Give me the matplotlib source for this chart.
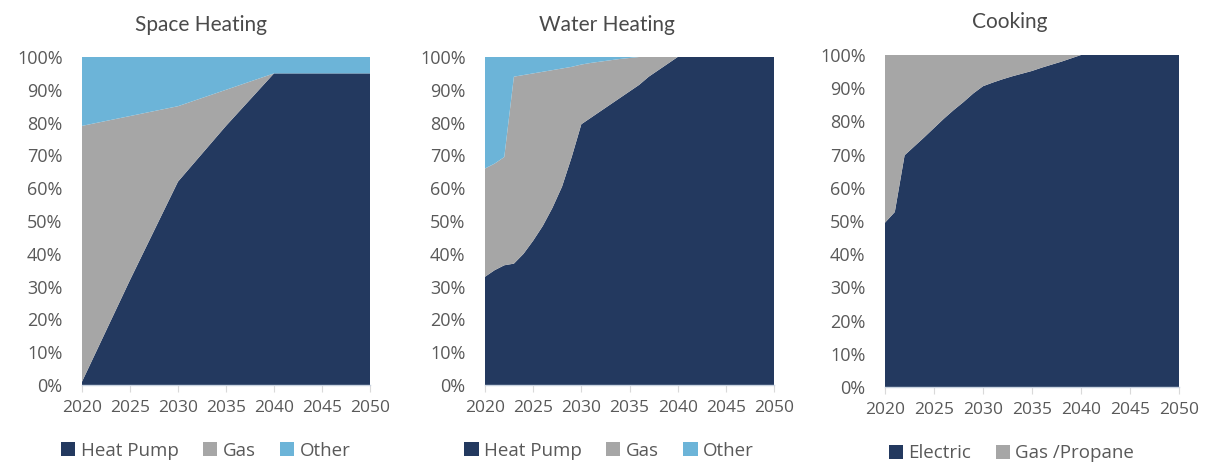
import matplotlib
matplotlib.use("Agg")
import matplotlib.pyplot as plt
from matplotlib.patches import Patch
from matplotlib.ticker import PercentFormatter

# ---------------- data ----------------
space_years = [2020, 2025, 2030, 2035, 2040, 2045, 2050]
space_heat_pump = [1, 32, 62, 79, 95, 95, 95]
space_gas = [78, 50, 23, 11, 0, 0, 0]
space_other = [21, 18, 15, 10, 5, 5, 5]

water_years = list(range(2020, 2051))
water_heat_pump = [33, 35, 36.5, 37, 40, 44, 48.5, 54, 60.5, 69.5, 79.5,
                   81.5, 83.5, 85.5, 87.5, 89.5, 91.5, 94, 96, 98, 100,
                   100, 100, 100, 100, 100, 100, 100, 100, 100, 100]
water_gas = [33, 32.5, 33, 57, 54.5, 51, 47, 42, 36, 27.5, 18.2,
             16.7, 15.1, 13.5, 11.9, 10.2, 8.5, 6, 4, 2, 0,
             0, 0, 0, 0, 0, 0, 0, 0, 0, 0]
water_other = [34, 32.5, 30.5, 6, 5.5, 5, 4.5, 4, 3.5, 3, 2.3,
               1.8, 1.4, 1.0, 0.6, 0.3, 0, 0, 0, 0, 0,
               0, 0, 0, 0, 0, 0, 0, 0, 0, 0]

cook_years = list(range(2020, 2051))
cook_electric = [49.5, 52.7, 69.8, 72.5, 75.2, 78, 80.8, 83.4, 85.8, 88.4, 90.6,
                 91.7, 92.7, 93.6, 94.4, 95.2, 96.2, 97.1, 98, 99, 100,
                 100, 100, 100, 100, 100, 100, 100, 100, 100, 100]
cook_gas = [100 - v for v in cook_electric]

titles = ["Space Heating", "Water Heating", "Cooking"]
xticks = [2020, 2025, 2030, 2035, 2040, 2045, 2050]
yticks = list(range(0, 101, 10))

# ---------------- style ----------------
NAVY = "#23395f"
GRAY = "#a6a6a6"
LBLUE = "#6cb4d8"
TXT = "#595959"
TITLE_C = "#4a4a4a"
FONT = "Open Sans"

fig = plt.figure(figsize=(12.05, 4.62), dpi=100)
W, H = 1205, 462

def add_ax(l, r, t, b):
    return fig.add_axes([l / W, (H - b) / H, (r - l) / W, (b - t) / H])

ax1 = add_ax(82, 370, 57, 385)
ax2 = add_ax(485, 774, 57, 385)
ax3 = add_ax(885, 1179, 55, 387)

ax1.stackplot(space_years, space_heat_pump, space_gas, space_other,
              colors=[NAVY, GRAY, LBLUE], linewidth=0)
ax2.stackplot(water_years, water_heat_pump, water_gas, water_other,
              colors=[NAVY, GRAY, LBLUE], linewidth=0)
ax3.stackplot(cook_years, cook_electric, cook_gas,
              colors=[NAVY, GRAY], linewidth=0)

legends = [
    [("Heat Pump", NAVY), ("Gas", GRAY), ("Other", LBLUE)],
    [("Heat Pump", NAVY), ("Gas", GRAY), ("Other", LBLUE)],
    [("Electric", NAVY), ("Gas /Propane", GRAY)],
]
title_pos = [(201, 31), (607, 31), (1010, 28)]

for ax, title, leg, (tx, ty) in zip([ax1, ax2, ax3], titles, legends, title_pos):
    ax.set_xlim(2020, 2050)
    ax.set_ylim(0, 100)
    ax.set_xticks(xticks)
    ax.set_yticks(yticks)
    ax.yaxis.set_major_formatter(PercentFormatter(decimals=0))
    for s in ["left", "right", "top"]:
        ax.spines[s].set_visible(False)
    ax.spines["bottom"].set_color("#c9d3e0")
    ax.spines["bottom"].set_linewidth(1.0)
    ax.tick_params(axis="y", length=0, pad=14, labelsize=13, labelcolor=TXT)
    ax.tick_params(axis="x", length=5, width=0.8, color="#d9d9d9",
                   pad=6, labelsize=12.5, labelcolor=TXT)
    for lab in ax.get_xticklabels() + ax.get_yticklabels():
        lab.set_fontfamily(FONT)
    fig.text(tx / W, (H - ty) / H, title, fontsize=15, color=TITLE_C,
             family="Lato", ha="center", va="baseline")
    handles = [Patch(facecolor=c, edgecolor="none", label=n) for n, c in leg]
    ax.legend(handles=handles, loc="center", bbox_to_anchor=(0.43, -0.2),
              ncol=len(handles), frameon=False, handlelength=0.75,
              handleheight=0.75, handletextpad=0.3, columnspacing=1.3,
              prop={"family": FONT, "size": 13.5}, labelcolor=TXT)

fig.savefig("out.png", dpi=100)
